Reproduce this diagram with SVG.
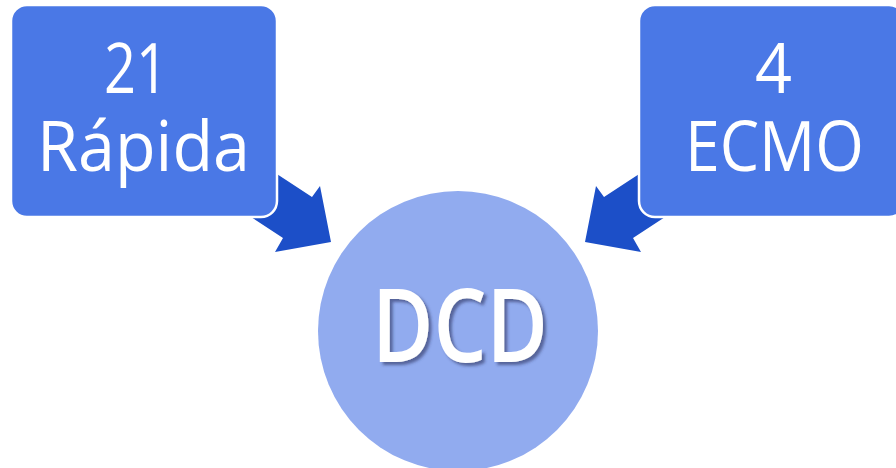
<svg xmlns="http://www.w3.org/2000/svg" width="896" height="468" viewBox="0 0 896 468">
<defs>
<style>
.box{fill:#4a78e6;stroke:#ffffff;stroke-width:2.5}
.arrow{fill:#1c4fc8}
.lbl{fill:#ffffff;font-family:"Open Sans","Noto Sans",sans-serif;font-size:70px;text-anchor:middle}
.big{fill:#ffffff;font-family:"Open Sans","Noto Sans",sans-serif;font-size:101px;font-weight:600;text-anchor:middle}
</style>
<filter id="shadow" x="-10%" y="-10%" width="125%" height="130%">
<feDropShadow dx="3" dy="3" stdDeviation="1.5" flood-color="#2a3560" flood-opacity="0.6"/>
</filter>
</defs>
<rect width="896" height="468" fill="#ffffff"/>
<g id="connectors">
<polygon class="arrow" points="228,142 312,197 320,186 331,242 275,252 283,238 199,183"/>
<polygon class="arrow" points="688,142 604,197 596,186 585,242 641,252 633,238 717,183"/>
</g>
<g id="node-rapida">
<rect class="box" x="11" y="5" width="266" height="212" rx="16"/>
<text class="lbl" x="136" y="93" textLength="64" lengthAdjust="spacingAndGlyphs">21</text>
<text class="lbl" x="143.5" y="171" textLength="213" lengthAdjust="spacingAndGlyphs">Rápida</text>
</g>
<g id="node-ecmo">
<rect class="box" x="639" y="5" width="266" height="212" rx="16"/>
<text class="lbl" x="773.5" y="93" textLength="37" lengthAdjust="spacingAndGlyphs">4</text>
<text class="lbl" x="774.5" y="171" textLength="179" lengthAdjust="spacingAndGlyphs">ECMO</text>
</g>
<g id="node-dcd">
<circle cx="458" cy="331" r="140" fill="#91abef"/>
<text class="big" x="460" y="362" textLength="176" lengthAdjust="spacingAndGlyphs" filter="url(#shadow)">DCD</text>
</g>
</svg>
